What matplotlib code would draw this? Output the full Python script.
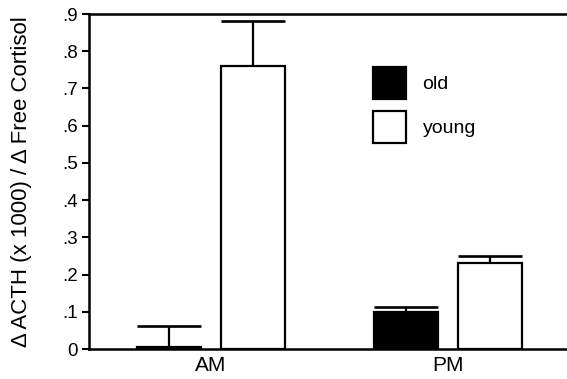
import matplotlib
matplotlib.use("Agg")
import matplotlib.pyplot as plt
import numpy as np

plt.rcParams['font.family'] = ['Liberation Sans', 'DejaVu Sans']

groups = ["AM", "PM"]
old_vals = [0.005, 0.10]
old_err = [0.058, 0.014]
young_vals = [0.76, 0.23]
young_err = [0.12, 0.02]
yticks = [0, .1, .2, .3, .4, .5, .6, .7, .8, .9]
ytick_labels = ["0", ".1", ".2", ".3", ".4", ".5", ".6", ".7", ".8", ".9"]

fig = plt.figure(figsize=(5.67, 3.79), dpi=100)
ax = fig.add_axes([0.157, 0.079, 0.85, 0.884])

x = np.arange(len(groups))
w = 0.27
off = 0.177

lw = 1.6
ax.bar(x - off, old_vals, w, color="black", edgecolor="black", linewidth=lw, label="old", zorder=3)
ax.bar(x + off, young_vals, w, color="white", edgecolor="black", linewidth=lw, label="young", zorder=3)

# upper-only error bars with caps as wide as the bars
for xs, vals, errs in [(x - off, old_vals, old_err), (x + off, young_vals, young_err)]:
    for xi, v, e in zip(xs, vals, errs):
        ax.vlines(xi, v, v + e, color="black", linewidth=lw, zorder=2)
        ax.hlines(v + e, xi - w / 2, xi + w / 2, color="black", linewidth=lw * 1.2, zorder=2)

ax.set_xlim(-0.515, 1.52)
ax.set_ylim(0, 0.9)
ax.set_xticks(x)
ax.set_xticklabels(groups, fontsize=15)
ax.set_yticks(yticks)
ax.set_yticklabels(ytick_labels, fontsize=13.5)
ax.tick_params(axis="x", length=0, pad=5)
ax.tick_params(axis="y", length=5, width=1.5, pad=3, direction="out")

for s in ["left", "bottom", "top"]:
    ax.spines[s].set_linewidth(1.8)
ax.spines["right"].set_visible(False)

ax.set_ylabel("\u0394 ACTH (x 1000) / \u0394 Free Cortisol", fontsize=16, labelpad=22)

ax.legend(loc="upper left", bbox_to_anchor=(0.589, 0.842), frameon=False, fontsize=14,
          handlelength=1.7, handleheight=2.15, labelspacing=0.6, handletextpad=0.85,
          borderpad=0, borderaxespad=0)

fig.savefig("out.png", dpi=100)
